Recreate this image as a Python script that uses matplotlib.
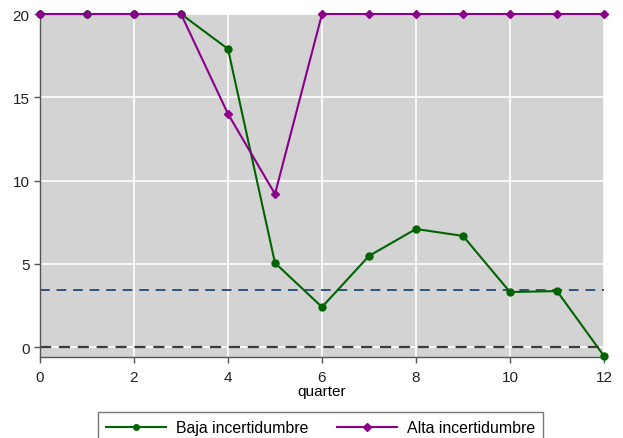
import matplotlib
matplotlib.use("Agg")
import matplotlib.pyplot as plt

quarters = list(range(13))
baja = [20, 20, 20, 20, 17.9, 5.05, 2.4, 5.47, 7.09, 6.67, 3.3, 3.36, -0.54]
alta = [20, 20, 20, 20, 14.0, 9.19, 20, 20, 20, 20, 20, 20, 20]
ref_level = 3.42
x_ticks = [0, 2, 4, 6, 8, 10, 12]
y_ticks = [0, 5, 10, 15, 20]

plt.rcParams['font.family'] = ['Liberation Sans', 'DejaVu Sans']
plt.rcParams['font.size'] = 11

fig = plt.figure(figsize=(6.23, 4.39), dpi=100)
ax = fig.add_axes([0.0642, 0.1845, 0.9053, 0.7813])
ax.set_facecolor('#d3d3d3')
fig.patch.set_facecolor('white')

ax.axhline(ref_level, color='#2e5478', lw=1.4, ls=(0, (5, 3.5)), zorder=2)
ax.axhline(0, color='#3c3c3c', lw=1.6, ls=(0, (5, 3.5)), zorder=2)

ax.plot(quarters, baja, color='#006400', lw=1.5, marker='o', ms=5,
        label='Baja incertidumbre', clip_on=False, zorder=4)
ax.plot(quarters, alta, color='#8b008b', lw=1.5, marker='D', ms=4.5,
        label='Alta incertidumbre', clip_on=False, zorder=5)

ax.set_xlim(0, 12)
ax.set_ylim(-0.6, 20)
ax.set_xticks(x_ticks)
ax.set_yticks(y_ticks)
ax.grid(True, color='white', lw=1.2, zorder=1)
ax.set_axisbelow(True)

for s in ['top', 'right']:
    ax.spines[s].set_visible(False)
for s in ['left', 'bottom']:
    ax.spines[s].set_color('#555555')
    ax.spines[s].set_linewidth(1.0)
ax.tick_params(axis='both', direction='out', length=4, width=1,
               color='#555555', labelsize=11, labelcolor='#222222')
ax.tick_params(axis='x', pad=5)
ax.set_xlabel('quarter', fontsize=11, labelpad=0)

leg = fig.legend(loc='lower center', bbox_to_anchor=(0.515, -0.03), ncol=2,
                 frameon=True, fancybox=False, edgecolor='#555555',
                 fontsize=11.4, handlelength=3.8, handletextpad=0.63,
                 columnspacing=1.8, borderpad=0.5, markerscale=0.8)
leg.get_frame().set_linewidth(1.0)

fig.savefig('out.png', dpi=100)
